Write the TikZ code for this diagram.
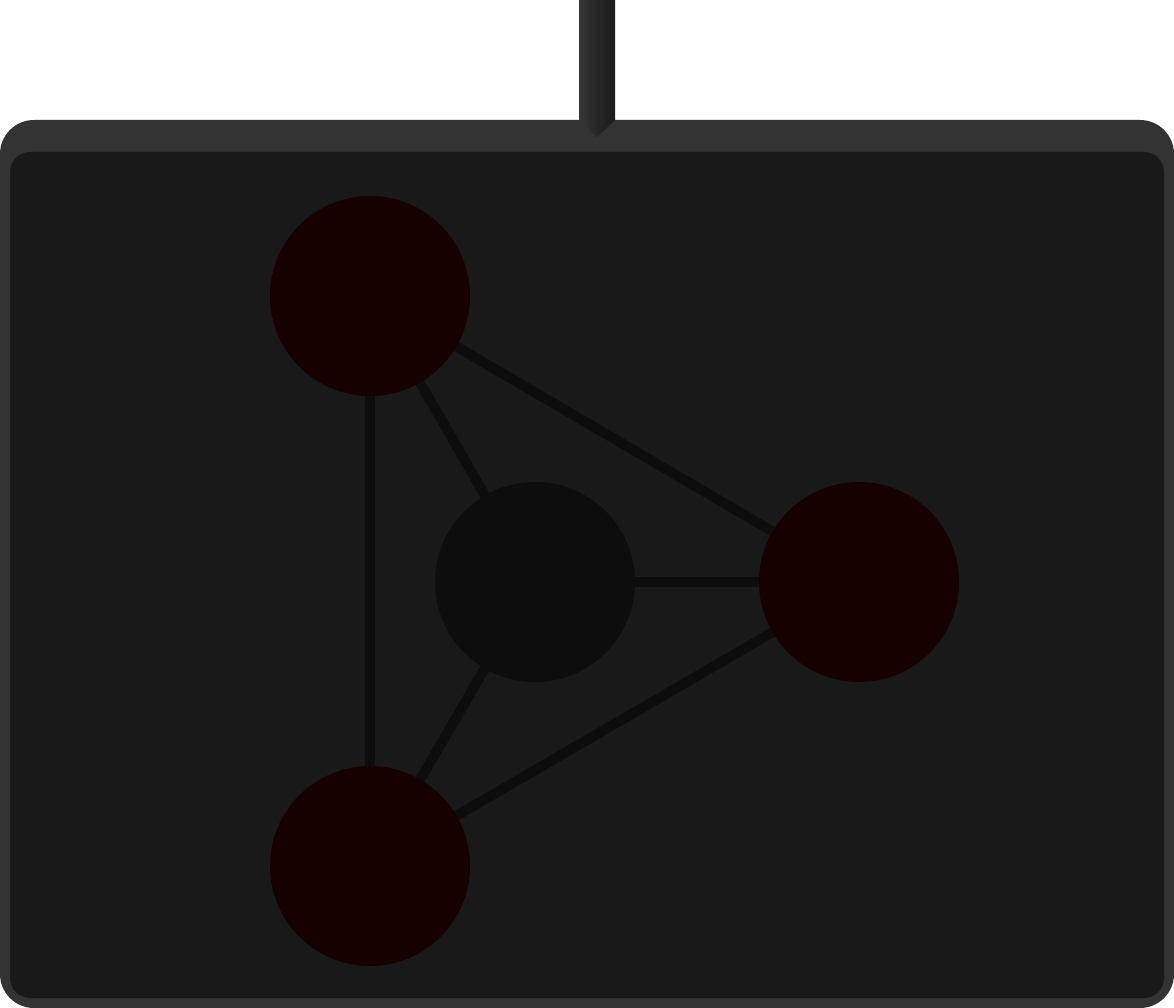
\documentclass[tikz,border=0pt]{standalone}
\usetikzlibrary{backgrounds}
\begin{document}
\begin{tikzpicture}[x=1pt,y=-1pt,
  redball/.style={circle,fill=red!9!black,minimum size=200pt,inner sep=0pt},
  hubball/.style={circle,fill=black!95,minimum size=200pt,inner sep=0pt},
  link/.style={draw=black!95,line width=10pt}]
\useasboundingbox (0,0) rectangle (1174,1008);
\node[redball] (tl) at (370,296) {};
\node[redball] (rt) at (859,582) {};
\node[redball] (bl) at (370,866) {};
\node[hubball] (hub) at (535,582) {};
\coordinate (feed) at (597,137);
\begin{pgfonlayer}{background}
\fill[black!80] (0,120) [rounded corners=34pt] rectangle (1174,1008);
\fill[black!90] (10,152) [rounded corners=20pt] rectangle (1164,998);
\shade[left color=black!79,right color=black!90] (579,0) -- (615,0) -- (615,120) -- (feed) -- (579,120) -- cycle;
\path[link] (tl.center) -- (hub.center);
\path[link] (tl.center) -- (rt.center);
\path[link] (tl.center) -- (bl.center);
\path[link] (hub.center) -- (rt.center);
\path[link] (hub.center) -- (bl.center);
\path[link] (bl.center) -- (rt.center);
\end{pgfonlayer}
\end{tikzpicture}
\end{document}
